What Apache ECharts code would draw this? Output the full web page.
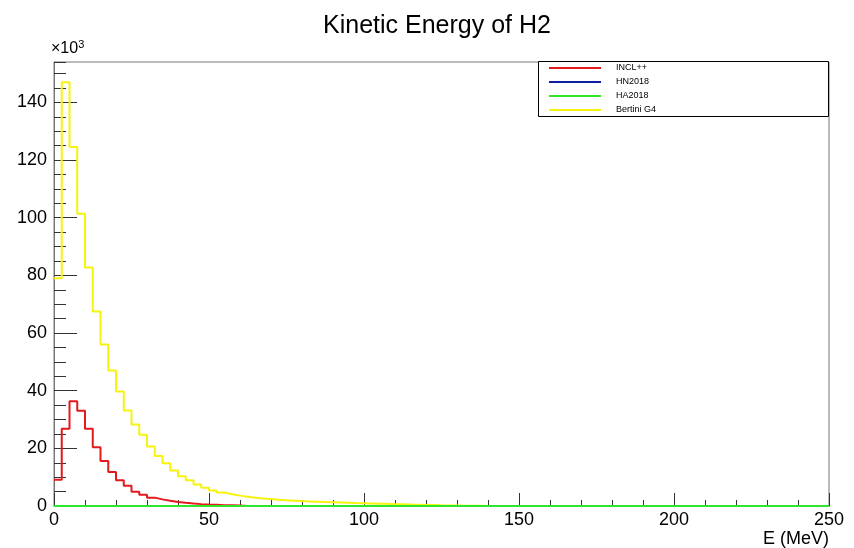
<!DOCTYPE html>
<html>
<head>
<meta charset="utf-8">
<script src="https://cdn.jsdelivr.net/npm/echarts@6/dist/echarts.min.js"></script>
<style>
  html, body { margin: 0; padding: 0; background: #fff; }
  #chart { width: 854px; height: 548px; }
</style>
</head>
<body>
<div id="chart"></div>
<script>
// Kinetic energy spectra of H2, 100 bins of 2.5 MeV from 0 to 250 MeV.
// Bin contents are in units of 10^3 entries.
const binWidth = 2.5;
const seriesNames = ['INCL++', 'HN2018', 'HA2018', 'Bertini G4'];

const incl = [
  9.1, 26.8, 36.3, 33.0, 26.8, 20.4, 15.6, 11.8, 8.9, 7.0,
  4.9, 3.9, 2.9, 2.3, 1.8, 1.4, 1.1, 0.85, 0.65, 0.5,
  0.4, 0.3, 0.25, 0.2, 0, 0, 0, 0, 0, 0,
  0, 0, 0, 0, 0, 0, 0, 0, 0, 0,
  0, 0, 0, 0, 0, 0, 0, 0, 0, 0,
  0, 0, 0, 0, 0, 0, 0, 0, 0, 0,
  0, 0, 0, 0, 0, 0, 0, 0, 0, 0,
  0, 0, 0, 0, 0, 0, 0, 0, 0, 0,
  0, 0, 0, 0, 0, 0, 0, 0, 0, 0,
  0, 0, 0, 0, 0, 0, 0, 0, 0, 0
];

const hn2018 = [
  0, 0, 0, 0, 0, 0, 0, 0, 0, 0,
  0, 0, 0, 0, 0, 0, 0, 0, 0, 0,
  0, 0, 0, 0, 0, 0, 0, 0, 0, 0,
  0, 0, 0, 0, 0, 0, 0, 0, 0, 0,
  0, 0, 0, 0, 0, 0, 0, 0, 0, 0,
  0, 0, 0, 0, 0, 0, 0, 0, 0, 0,
  0, 0, 0, 0, 0, 0, 0, 0, 0, 0,
  0, 0, 0, 0, 0, 0, 0, 0, 0, 0,
  0, 0, 0, 0, 0, 0, 0, 0, 0, 0,
  0, 0, 0, 0, 0, 0, 0, 0, 0, 0
];

const ha2018 = [
  0, 0, 0, 0, 0, 0, 0, 0, 0, 0,
  0, 0, 0, 0, 0, 0, 0, 0, 0, 0,
  0, 0, 0, 0, 0, 0, 0, 0, 0, 0,
  0, 0, 0, 0, 0, 0, 0, 0, 0, 0,
  0, 0, 0, 0, 0, 0, 0, 0, 0, 0,
  0, 0, 0, 0, 0, 0, 0, 0, 0, 0,
  0, 0, 0, 0, 0, 0, 0, 0, 0, 0,
  0, 0, 0, 0, 0, 0, 0, 0, 0, 0,
  0, 0, 0, 0, 0, 0, 0, 0, 0, 0,
  0, 0, 0, 0, 0, 0, 0, 0, 0, 0
];

const bertini = [
  79.0, 147.0, 124.5, 101.4, 82.7, 67.5, 56.0, 47.0, 39.7, 33.1,
  28.3, 24.7, 20.6, 17.3, 14.8, 12.3, 10.3, 8.9, 7.5, 6.3,
  5.4, 4.7, 4.1, 3.6, 3.2, 2.9, 2.6, 2.4, 2.2, 2.0,
  1.85, 1.7, 1.6, 1.5, 1.4, 1.3, 1.2, 1.1, 1.0, 0.95,
  0.9, 0.8, 0.75, 0.65, 0.6, 0.5, 0.45, 0.38, 0.32, 0.25,
  0.2, 0.15, 0.1, 0.07, 0.05, 0.03, 0.02, 0.01, 0, 0,
  0, 0, 0, 0, 0, 0, 0, 0, 0, 0,
  0, 0, 0, 0, 0, 0, 0, 0, 0, 0,
  0, 0, 0, 0, 0, 0, 0, 0, 0, 0,
  0, 0, 0, 0, 0, 0, 0, 0, 0, 0
];

const colors = {
  'INCL++': '#e3191c',
  'HN2018': '#0c1fa6',
  'HA2018': '#2fe62f',
  'Bertini G4': '#f7f30c'
};

// Step outline: one point per left bin edge plus the closing right edge.
function stepData(values) {
  const pts = values.map((v, i) => [i * binWidth, v]);
  pts.push([values.length * binWidth, values[values.length - 1]]);
  return pts;
}

const FONT = '"Liberation Sans", Arial, Helvetica, sans-serif';
const chart = echarts.init(document.getElementById('chart'), null, { renderer: 'canvas' });

function histSeries(name, values, z) {
  return {
    name: name,
    type: 'line',
    step: 'end',
    data: stepData(values),
    showSymbol: false,
    symbol: 'none',
    z: z,
    lineStyle: { color: colors[name], width: 2 },
    itemStyle: { color: colors[name] }
  };
}

chart.setOption({
  animation: false,
  backgroundColor: '#fff',
  title: {
    text: 'Kinetic Energy of H2',
    left: 318,
    top: 9,
    textStyle: { fontFamily: FONT, fontSize: 25, fontWeight: 'normal', color: '#000' }
  },
  grid: {
    left: 54, right: 25, top: 62, bottom: 40,
    show: true, borderColor: '#777', borderWidth: 1, backgroundColor: 'transparent'
  },
  legend: {
    data: seriesNames,
    orient: 'vertical',
    left: 549,
    top: 61,
    padding: 0,
    itemGap: 0,
    itemWidth: 52,
    itemHeight: 2,
    icon: 'rect',
    z: 6,
    textStyle: { fontFamily: FONT, fontSize: 9, color: '#000', lineHeight: 14, padding: [0, 0, 0, 10] }
  },
  graphic: [
    {
      type: 'rect',
      z: 5,
      shape: { x: 538.5, y: 61.5, width: 290, height: 55 },
      style: { fill: '#fff', stroke: '#000', lineWidth: 1 }
    }
  ],
  xAxis: {
    type: 'value',
    min: 0,
    max: 250,
    interval: 50,
    name: 'E (MeV)',
    nameLocation: 'end',
    nameGap: 0,
    nameTextStyle: {
      fontFamily: FONT, fontSize: 18, color: '#000',
      align: 'right', verticalAlign: 'top', padding: [24, 0, 0, 0]
    },
    axisLine: { show: true, lineStyle: { color: '#777', width: 1 } },
    axisTick: { show: true, inside: true, length: 13, lineStyle: { color: '#333', width: 1 } },
    minorTick: { show: true, splitNumber: 5, length: 6, lineStyle: { color: '#333', width: 1 } },
    axisLabel: { fontFamily: FONT, fontSize: 18, color: '#000', margin: 5 },
    splitLine: { show: false }
  },
  yAxis: [
    {
      type: 'value',
      min: 0,
      max: 154,
      interval: 20,
      name: '{a|×10}{b|3}',
      nameLocation: 'end',
      nameGap: 4,
      nameTextStyle: {
        align: 'left', verticalAlign: 'bottom', padding: [0, 0, 0, -3],
        rich: {
          a: { fontFamily: FONT, fontSize: 16, color: '#000' },
          b: { fontFamily: FONT, fontSize: 11, color: '#000', verticalAlign: 'top', padding: [0, 0, 8, 0] }
        }
      },
      axisLine: { show: true, lineStyle: { color: '#777', width: 1 } },
      axisTick: { show: true, inside: true, length: 23, lineStyle: { color: '#333', width: 1 } },
      axisLabel: {
        fontFamily: FONT, fontSize: 18, color: '#000', margin: 7,
        showMaxLabel: false
      },
      splitLine: { show: false }
    },
    {
      // finer tick marks every 5 x 10^3
      type: 'value',
      min: 0,
      max: 154,
      interval: 5,
      position: 'left',
      axisLine: { show: false },
      axisTick: { show: true, inside: true, length: 12, lineStyle: { color: '#333', width: 1 } },
      axisLabel: { show: false },
      splitLine: { show: false }
    }
  ],
  series: [
    histSeries('INCL++', incl, 2),
    histSeries('HN2018', hn2018, 3),
    histSeries('Bertini G4', bertini, 4),
    histSeries('HA2018', ha2018, 5)
  ]
});
</script>
</body>
</html>
